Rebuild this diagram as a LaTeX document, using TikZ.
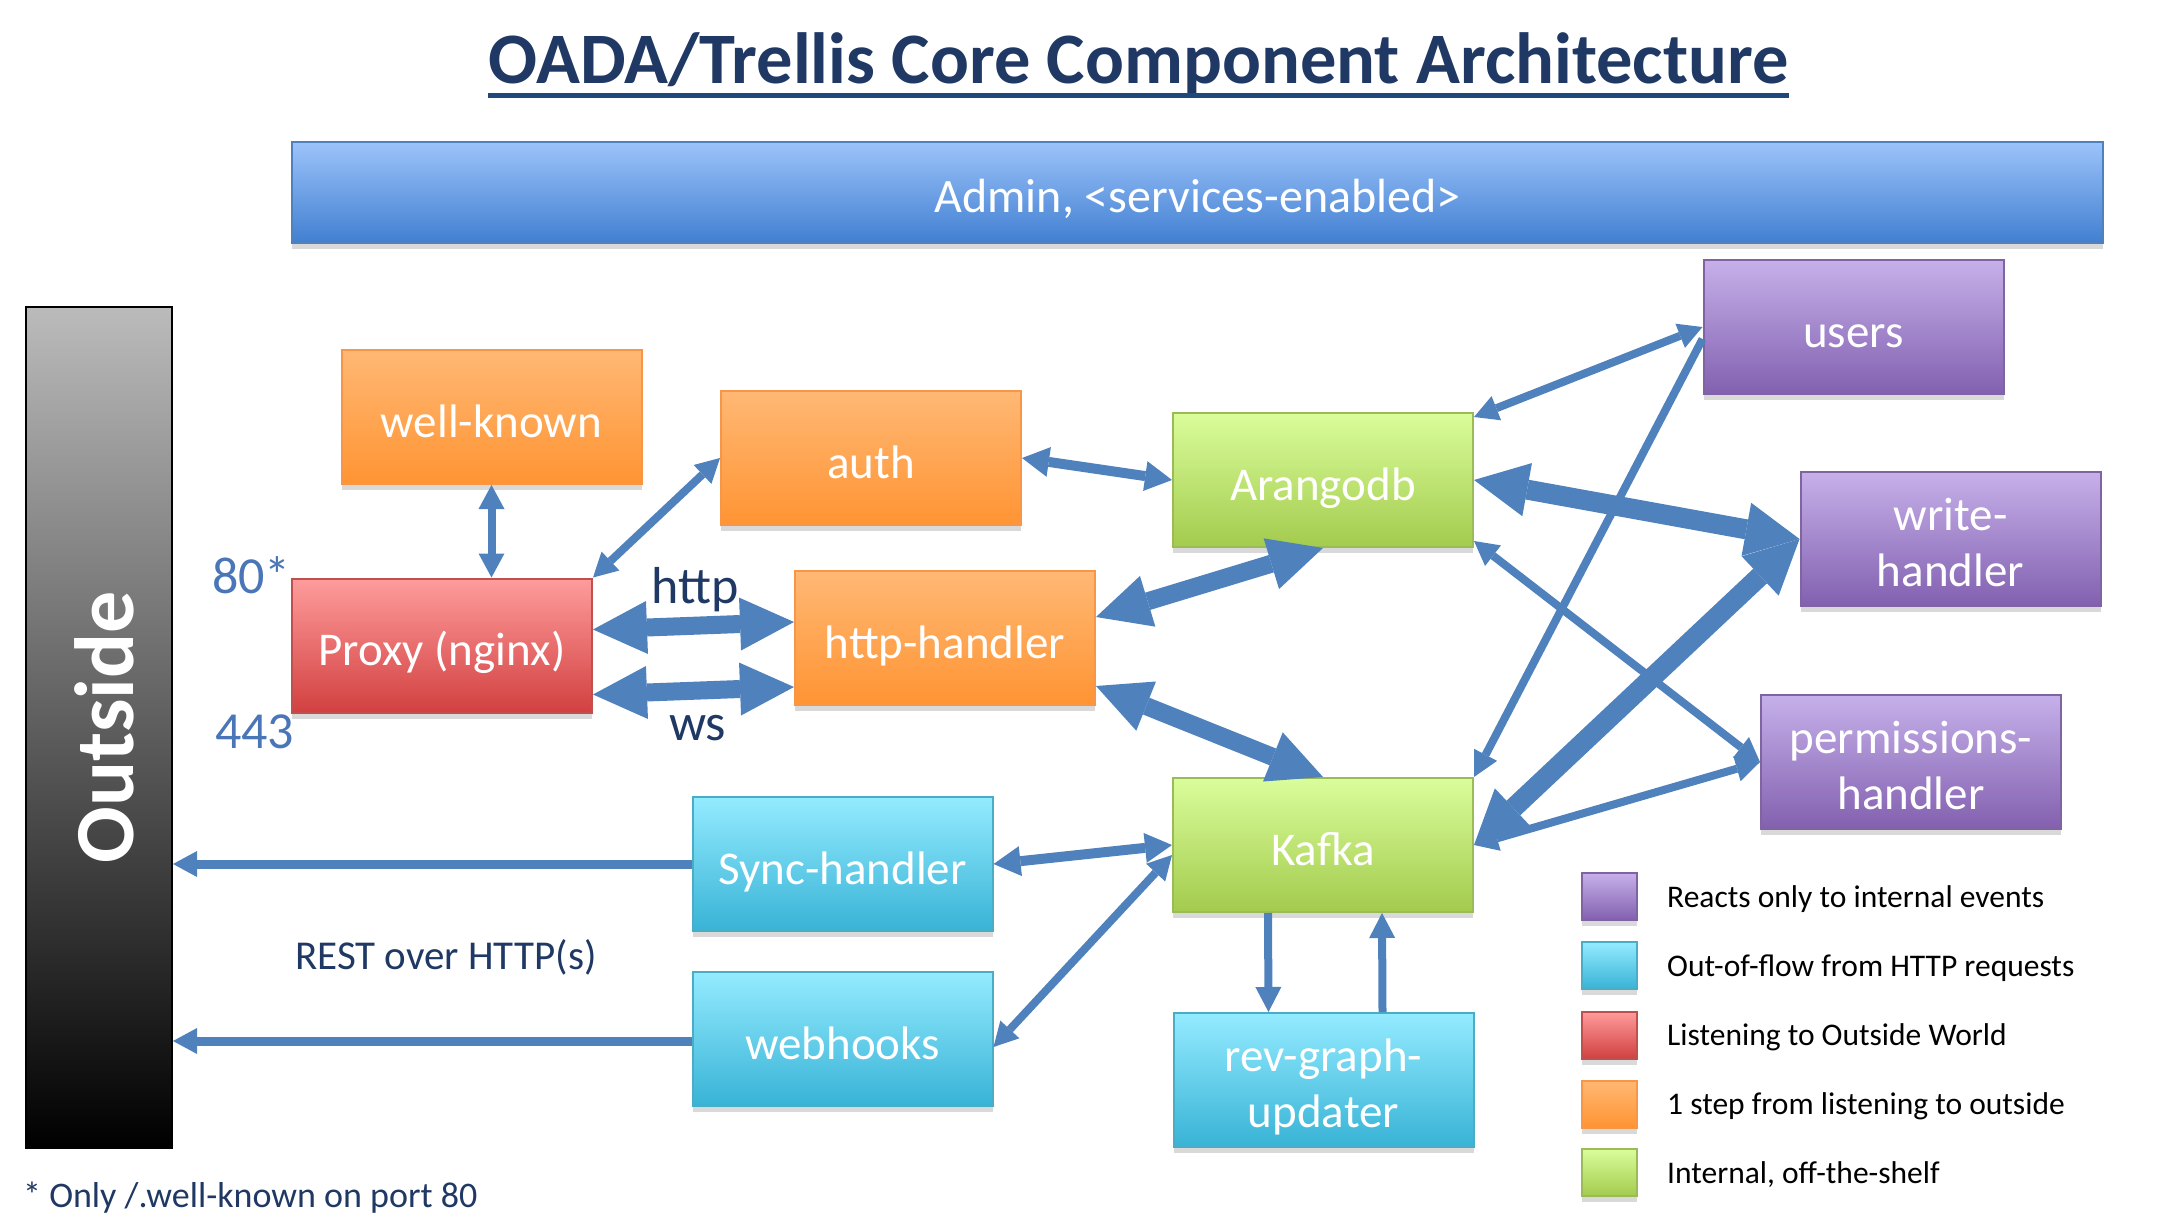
\documentclass[tikz,border=0pt]{standalone}
\usepackage{fontspec}
\setmainfont{Carlito}
\usetikzlibrary{arrows.meta,shadows,calc}
\definecolor{arrowblue}{HTML}{4F81BD}
\definecolor{navy}{HTML}{1F3864}
\definecolor{navyline}{HTML}{1F497D}
\definecolor{portblue}{HTML}{4A76B8}
\definecolor{orgT}{HTML}{FFB874}\definecolor{orgB}{HTML}{FF9433}\definecolor{orgD}{HTML}{F79646}
\definecolor{redT}{HTML}{FF9C9C}\definecolor{redB}{HTML}{D24040}\definecolor{redD}{HTML}{C0504D}
\definecolor{grnT}{HTML}{DAFD9B}\definecolor{grnB}{HTML}{A3CB4D}\definecolor{grnD}{HTML}{9BBB59}
\definecolor{purT}{HTML}{C6B0EA}\definecolor{purB}{HTML}{8260AF}\definecolor{purD}{HTML}{8064A2}
\definecolor{cyaT}{HTML}{94EBFF}\definecolor{cyaB}{HTML}{38B3D6}\definecolor{cyaD}{HTML}{4BACC6}
\definecolor{bluT}{HTML}{9CC3FA}\definecolor{bluB}{HTML}{417FD1}\definecolor{bluD}{HTML}{4F81BD}
\definecolor{outT}{HTML}{BBBBBB}
\newcommand{\twolines}[2]{\begin{tabular}[b]{@{}c@{}}#1\\#2\end{tabular}}
\tikzset{
  basebox/.style={rectangle, inner sep=0pt, line width=2pt, text=white, align=center,
    font=\fontsize{47}{56}\selectfont, minimum width=300pt, minimum height=134pt,
    text height=50pt, text depth=10pt,
    drop shadow={shadow xshift=0pt, shadow yshift=-6pt, opacity=0.3}},
  twoline/.style={text height=104pt, text depth=10pt},
  orangebox/.style={basebox, draw=orgD, top color=orgT, bottom color=orgB},
  redbox/.style={basebox, draw=redD, top color=redT, bottom color=redB},
  greenbox/.style={basebox, draw=grnD, top color=grnT, bottom color=grnB},
  purplebox/.style={basebox, draw=purD, top color=purT, bottom color=purB},
  cyanbox/.style={basebox, draw=cyaD, top color=cyaT, bottom color=cyaB},
  bluebox/.style={basebox, draw=bluD, top color=bluT, bottom color=bluB},
  legsq/.style={minimum width=55pt, minimum height=47pt, text height=0pt, text depth=0pt},
  legtxt/.style={anchor=base west, inner sep=0pt, font=\fontsize{31.5}{37}\selectfont, text=black},
  conn/.style={draw=arrowblue},
  thinboth/.style={conn, line width=8pt, arrows={Triangle[width=26pt,length=24pt,line width=0pt]-Triangle[width=26pt,length=24pt,line width=0pt]}},
  thinone/.style={conn, line width=8pt, arrows={-Triangle[width=26pt,length=25pt,line width=0pt]}},
  medboth/.style={conn, line width=10pt, arrows={Triangle[width=30pt,length=27pt,line width=0pt]-Triangle[width=30pt,length=27pt,line width=0pt]}},
  medone/.style={conn, line width=9pt, arrows={-Triangle[width=26pt,length=24pt,line width=0pt]}},
  thickboth/.style={conn, line width=18pt, arrows={Triangle[width=53pt,length=54pt,line width=0pt]-Triangle[width=53pt,length=54pt,line width=0pt]}},
  thickerboth/.style={conn, line width=20pt, arrows={Triangle[width=54pt,length=54pt,line width=0pt]-Triangle[width=54pt,length=54pt,line width=0pt]}},
}
\begin{document}
\begin{tikzpicture}[x=1pt, y=-1pt]
\useasboundingbox (0,0) rectangle (2160,1215);

% title
\node[anchor=base, inner sep=0pt, text=navy, font=\bfseries\fontsize{72.5}{80}\selectfont] (title) at (1138.5,83) {OADA/Trellis Core Component Architecture};
\draw[navyline, line width=5pt] ([yshift=-12pt]title.base west) -- ([yshift=-12pt]title.base east);

% admin bar
\node[bluebox, minimum width=1811pt, minimum height=101pt, font=\fontsize{48}{56}\selectfont] (admin) at (1197.5,192.5) {Admin, <services-enabled>};

% outside bar
\node[draw=black, line width=2pt, top color=outT, bottom color=black, minimum width=146pt, minimum height=841pt, inner sep=0pt] (outside) at (99,727.5) {};
\node[rotate=90, inner sep=0pt, text=white, font=\bfseries\fontsize{84}{90}\selectfont] (outlbl) at ([xshift=5pt]outside.center) {Outside};

% nodes
\node[orangebox] (wk) at (491.5,417) {well-known};
\node[redbox] (proxy) at (442,645.5) {Proxy (nginx)};
\node[orangebox] (auth) at (871,458) {auth};
\node[orangebox] (httph) at (945,638) {http-handler};
\node[greenbox] (arango) at (1323,480) {Arangodb};
\node[greenbox] (kafka) at (1323,845) {Kafka};
\node[purplebox] (users) at (1853.5,327) {users};
\node[purplebox, twoline] (write) at (1950.5,539) {\twolines{write-}{handler}};
\node[purplebox, twoline] (perm) at (1911,762) {\twolines{permissions-}{handler}};
\node[cyanbox] (sync) at (842.5,864) {Sync-handler};
\node[cyanbox] (webhooks) at (842.5,1039) {webhooks};
\node[cyanbox, twoline] (revgraph) at (1323.5,1080) {\twolines{rev-graph-}{updater}};

% labels
\node[anchor=base west, inner sep=0pt, text=portblue, font=\fontsize{52}{58}\selectfont] (p80) at (212,593) {80*};
\node[anchor=base west, inner sep=0pt, text=portblue, font=\fontsize{52}{58}\selectfont] (p443) at (215,748) {443};
\node[anchor=base west, inner sep=0pt, text=navy, font=\fontsize{52}{58}\selectfont] (lhttp) at (651,603) {http};
\node[anchor=base west, inner sep=0pt, text=navy, font=\fontsize{52}{58}\selectfont] (lws) at (669,740) {ws};
\node[anchor=base west, inner sep=0pt, text=navy, font=\fontsize{41}{48}\selectfont] (lrest) at (295,969) {REST over HTTP(s)};
\node[anchor=base west, inner sep=0pt, text=navy, font=\fontsize{36}{42}\selectfont] (lnote) at (23,1207) {* Only /.well-known on port 80};

% legend
\node[purplebox, legsq] (lg1) at (1609.5,896.5) {};
\node[cyanbox, legsq] (lg2) at (1609.5,965.5) {};
\node[redbox, legsq] (lg3) at (1609.5,1035) {};
\node[orangebox, legsq] (lg4) at (1609.5,1104) {};
\node[greenbox, legsq] (lg5) at (1609.5,1172.5) {};
\node[legtxt] (lt1) at (1667,907) {Reacts only to internal events};
\node[legtxt] (lt2) at (1667,976) {Out-of-flow from HTTP requests};
\node[legtxt] (lt3) at (1667,1045.5) {Listening to Outside World};
\node[legtxt] (lt4) at (1667,1114.5) {1 step from listening to outside};
\node[legtxt] (lt5) at (1667,1183) {Internal, off-the-shelf};

% connectors
\draw[thinboth] (wk.south) -- (wk.south |- proxy.north);
\draw[thinboth] (proxy.north east) -- (auth.west);
\draw[thickboth] ([yshift=16pt]proxy.east) -- ([yshift=16pt]httph.west);
\draw[thickboth] ([yshift=-49pt]proxy.east) -- ([yshift=-49pt]httph.west);
\draw[medboth] (auth.east) -- (arango.west);
\draw[thickboth] ([yshift=21pt]httph.east) -- (arango.south);
\draw[thickboth] ([yshift=-48pt]httph.east) -- (kafka.north);
\draw[thinboth] ([yshift=-5pt]arango.north east) -- (users.west);
\draw[thickerboth] (arango.east) -- (write.west);
\draw[thinboth] ([yshift=7pt]arango.south east) -- (perm.west);
\draw[thinone] ([yshift=-12pt]users.west) -- (kafka.north east);
\draw[thickerboth] (write.west) -- (kafka.east);
\draw[thinboth] (perm.west) -- (kafka.east);
\draw[medboth] (sync.east) -- (kafka.west);
\draw[thinboth] ([yshift=-8pt]webhooks.east) -- ([yshift=-10pt]kafka.west);
\draw[thinone] ([xshift=-55pt]kafka.south) -- ([xshift=-55pt]revgraph.north);
\draw[thinone] ([xshift=59pt]revgraph.north) -- ([xshift=59pt]kafka.south);
\draw[medone] (sync.west) -- (sync.west -| outside.east);
\draw[medone] ([yshift=-2pt]webhooks.west) -- ([yshift=-2pt]webhooks.west -| outside.east);
\end{tikzpicture}
\end{document}
